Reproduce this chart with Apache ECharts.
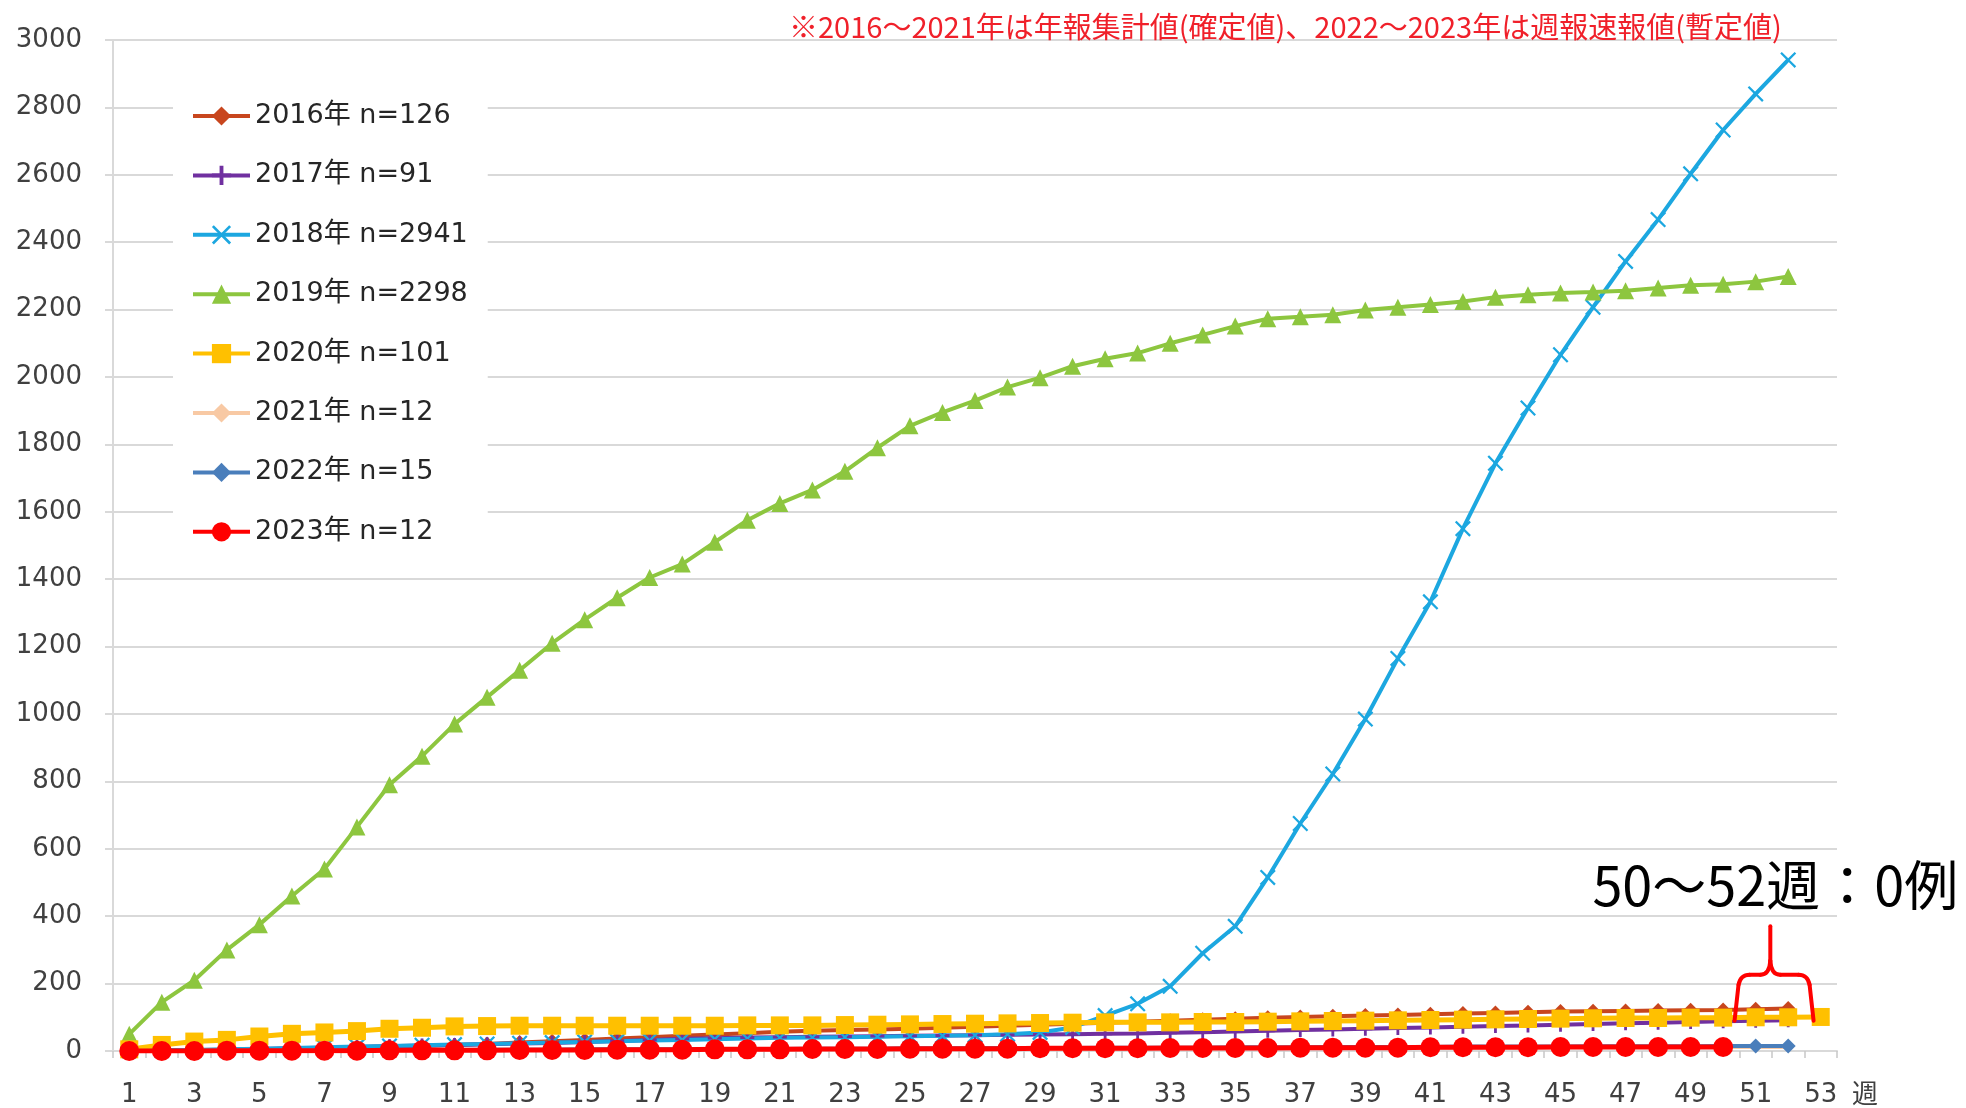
<!DOCTYPE html>
<html>
<head>
<meta charset="utf-8">
<script src="https://cdn.jsdelivr.net/npm/echarts@6/dist/echarts.min.js"></script>
<style>
  html, body { margin: 0; padding: 0; background: #ffffff; }
  #chart { width: 1966px; height: 1108px; }
</style>
</head>
<body>
<div id="chart"></div>
<script>
// Week numbers on the category axis
const weeks = ['1','2','3','4','5','6','7','8','9','10','11','12','13','14','15','16','17','18','19','20',
  '21','22','23','24','25','26','27','28','29','30','31','32','33','34','35','36','37','38','39','40',
  '41','42','43','44','45','46','47','48','49','50','51','52','53'];

// Series names shown in the legend
const seriesNames = ['2016年 n=126', '2017年 n=91', '2018年 n=2941', '2019年 n=2298',
  '2020年 n=101', '2021年 n=12', '2022年 n=15', '2023年 n=12'];

// Cumulative case counts per week
const y2016 = [1,2,3,4,5,7,9,11,13,15, 18,21,25,29,33,37,41,45,49,53, 57,60,62,64,66,69,72,75,78,81,
  84,87,90,93,96,99,101,103,105,107, 109,111,113,115,117,118,119,120,121,122, 124,126];
const y2017 = [1,2,3,4,6,8,10,12,14,16, 18,20,22,24,27,30,33,36,38,40, 41,42,43,44,45,46,47,48,49,50,
  51,52,54,56,58,60,62,64,66,68, 70,72,74,76,78,80,82,84,86,88, 90,91];
const y2018 = [1,2,3,5,7,9,11,13,15,17, 19,21,23,25,27,29,31,33,35,37, 39,40,41,42,44,45,47,50,55,70,
  105,140,192,290,370,515,675,822,985,1165, 1333,1550,1744,1908,2066,2207,2343,2467,2603,2733, 2840,2941];
const y2019 = [50,145,210,300,375,460,540,665,790,875, 970,1050,1130,1210,1280,1345,1405,1445,1510,1575,
  1625,1665,1720,1790,1855,1895,1930,1970,1998,2032, 2054,2071,2100,2125,2151,2173,2179,2185,2199,2207,
  2215,2224,2237,2244,2249,2252,2256,2264,2272,2275, 2283,2298];
const y2020 = [5,18,28,33,43,51,55,59,66,69, 73,74,75,75,75,75,75,75,75,76, 76,76,77,78,79,80,81,82,83,84,
  85,85,85,86,86,87,88,89,90,91, 92,93,94,95,96,97,98,98,99,99, 100,100,101];
const y2021 = [0,0,1,1,1,1,2,2,2,2, 3,3,3,3,4,4,4,4,5,5, 5,5,6,6,6,6,7,7,7,7,
  8,8,8,8,9,9,9,9,10,10, 10,10,11,11,11,11,11,12,12,12, 12,12];
const y2022 = [0,1,1,1,2,2,2,3,3,3, 3,4,4,4,5,5,5,5,6,6, 6,7,7,7,8,8,8,9,9,9,
  10,10,10,10,11,11,11,12,12,12, 12,13,13,13,13,14,14,14,14,15, 15,15];
const y2023 = [0,0,0,1,1,1,1,1,2,2, 2,2,3,3,3,4,4,4,5,5, 5,6,6,6,7,7,7,7,8,8,
  8,8,9,9,9,9,10,10,10,10, 11,11,11,11,12,12,12,12,12,12];

// Y axis ticks
const yMin = 0, yMax = 3000, yStep = 200;

const PLUS = 'path://M4,0H6V4H10V6H6V10H4V6H0V4H4Z';
const CROSS = 'path://M1,0L5,4L9,0L10,1L6,5L10,9L9,10L5,6L1,10L0,9L4,5L0,1Z';

const styles = [
  { color: '#C8461E', symbol: 'diamond',  size: 15, width: 4 },
  { color: '#7030A0', symbol: PLUS,       size: 14, width: 4 },
  { color: '#1CA7E0', symbol: CROSS,      size: 16, width: 4 },
  { color: '#8DC63F', symbol: 'triangle', size: 17, width: 4 },
  { color: '#FFC000', symbol: 'rect',     size: 18, width: 5 },
  { color: '#F8C9A4', symbol: 'diamond',  size: 12, width: 4 },
  { color: '#4A7EBB', symbol: 'diamond',  size: 15, width: 4 },
  { color: '#FF0000', symbol: 'circle',   size: 20, width: 5 }
];
const dataSets = [y2016, y2017, y2018, y2019, y2020, y2021, y2022, y2023];

const FONT = '"DejaVu Sans", "Noto Sans CJK JP", sans-serif';
const CJK = '"Noto Sans CJK JP", "DejaVu Sans", sans-serif';

const chart = echarts.init(document.getElementById('chart'), null, { renderer: 'canvas' });

const series = dataSets.map((d, i) => ({
  name: seriesNames[i],
  type: 'line',
  data: d,
  symbol: styles[i].symbol,
  symbolSize: styles[i].size,
  showAllSymbol: true,
  animation: false,
  lineStyle: { color: styles[i].color, width: styles[i].width },
  itemStyle: { color: styles[i].color, borderWidth: 0 },
  emphasis: { disabled: true }
}));

chart.setOption({
  animation: false,
  backgroundColor: '#ffffff',
  title: {
    text: '※2016～2021年は年報集計値(確定値)、2022～2023年は週報速報値(暫定値)',
    left: 784, top: 7,
    textStyle: { color: '#F0202A', fontSize: 29, fontWeight: 'normal', fontFamily: CJK }
  },
  grid: { left: 113, right: 129, top: 40, bottom: 55 },
  legend: {
    orient: 'vertical',
    left: 173, top: 87,
    data: seriesNames,
    itemWidth: 57, itemHeight: 24,
    itemGap: 29.4,
    padding: [14, 20, 14, 18],
    backgroundColor: '#ffffff',
    lineStyle: { width: 4 },
    textStyle: { fontSize: 27, lineHeight: 30, color: '#262626', fontFamily: FONT },
    selectedMode: false
  },
  xAxis: {
    type: 'category',
    data: weeks,
    boundaryGap: true,
    axisLine: { lineStyle: { color: '#D9D9D9', width: 2 } },
    axisTick: { show: true, interval: 0, length: 7, lineStyle: { color: '#C8C8C8', width: 1.5 } },
    axisLabel: { interval: 1, fontSize: 26, color: '#404040', margin: 31, fontFamily: FONT },
    splitLine: { show: false }
  },
  yAxis: {
    type: 'value',
    min: yMin, max: yMax, interval: yStep,
    axisLine: { show: true, lineStyle: { color: '#D9D9D9', width: 2 } },
    axisTick: { show: true, length: 8, lineStyle: { color: '#D9D9D9', width: 2 } },
    axisLabel: { fontSize: 26, color: '#404040', margin: 31, fontFamily: FONT,
                 formatter: (v) => String(v) },
    splitLine: { lineStyle: { color: '#D9D9D9', width: 2 } }
  },
  series: series
});

// Annotation for the final weeks of 2023, placed from axis coordinates
const xAt = (w) => {
  const i = Math.floor(w) - 1;
  const a = chart.convertToPixel({ xAxisIndex: 0 }, i);
  const b = chart.convertToPixel({ xAxisIndex: 0 }, i + 1);
  return a + (w - Math.floor(w)) * (b - a);
};
const yAt = (v) => chart.convertToPixel({ yAxisIndex: 0 }, v);

const lx = xAt(50.35), rx = xAt(52.78), mx = xAt(51.45);
const yb = yAt(90), yt = yAt(226), ytip = yAt(370);
const braceStyle = { stroke: '#FF0000', lineWidth: 4, lineCap: 'round', lineJoin: 'round', fill: null };
const seg = (pts) => ({ type: 'polyline', shape: { points: pts }, style: braceStyle, z: 100 });
const curve = (x1, y1, cx, cy, x2, y2) => ({
  type: 'bezierCurve', shape: { x1: x1, y1: y1, cpx1: cx, cpy1: cy, x2: x2, y2: y2 },
  style: braceStyle, z: 100
});

const step = xAt(2) - xAt(1);
chart.setOption({
  graphic: [
    seg([[lx, yb], [lx + 4, yt + 10]]),
    curve(lx + 4, yt + 10, lx + 6, yt, lx + 15, yt),
    seg([[lx + 15, yt], [mx - 10, yt]]),
    curve(mx - 10, yt, mx - 1, yt, mx, yt - 14),
    seg([[mx, yt - 14], [mx, ytip]]),
    curve(mx, yt - 14, mx + 1, yt, mx + 10, yt),
    seg([[mx + 10, yt], [rx - 15, yt]]),
    curve(rx - 15, yt, rx - 6, yt, rx - 4, yt + 10),
    seg([[rx - 4, yt + 10], [rx, yb]]),
    {
      type: 'text',
      x: mx + 5, y: yAt(490),
      style: { text: '50～52週：0例', fill: '#000000', fontSize: 54, fontFamily: CJK,
               align: 'center', verticalAlign: 'middle' },
      z: 100
    },
    {
      type: 'text',
      x: xAt(53) + 1.36 * step, y: yAt(0) + 42,
      style: { text: '週', fill: '#404040', fontSize: 26, fontFamily: CJK,
               align: 'center', verticalAlign: 'middle' },
      z: 100
    }
  ]
});
</script>
</body>
</html>
